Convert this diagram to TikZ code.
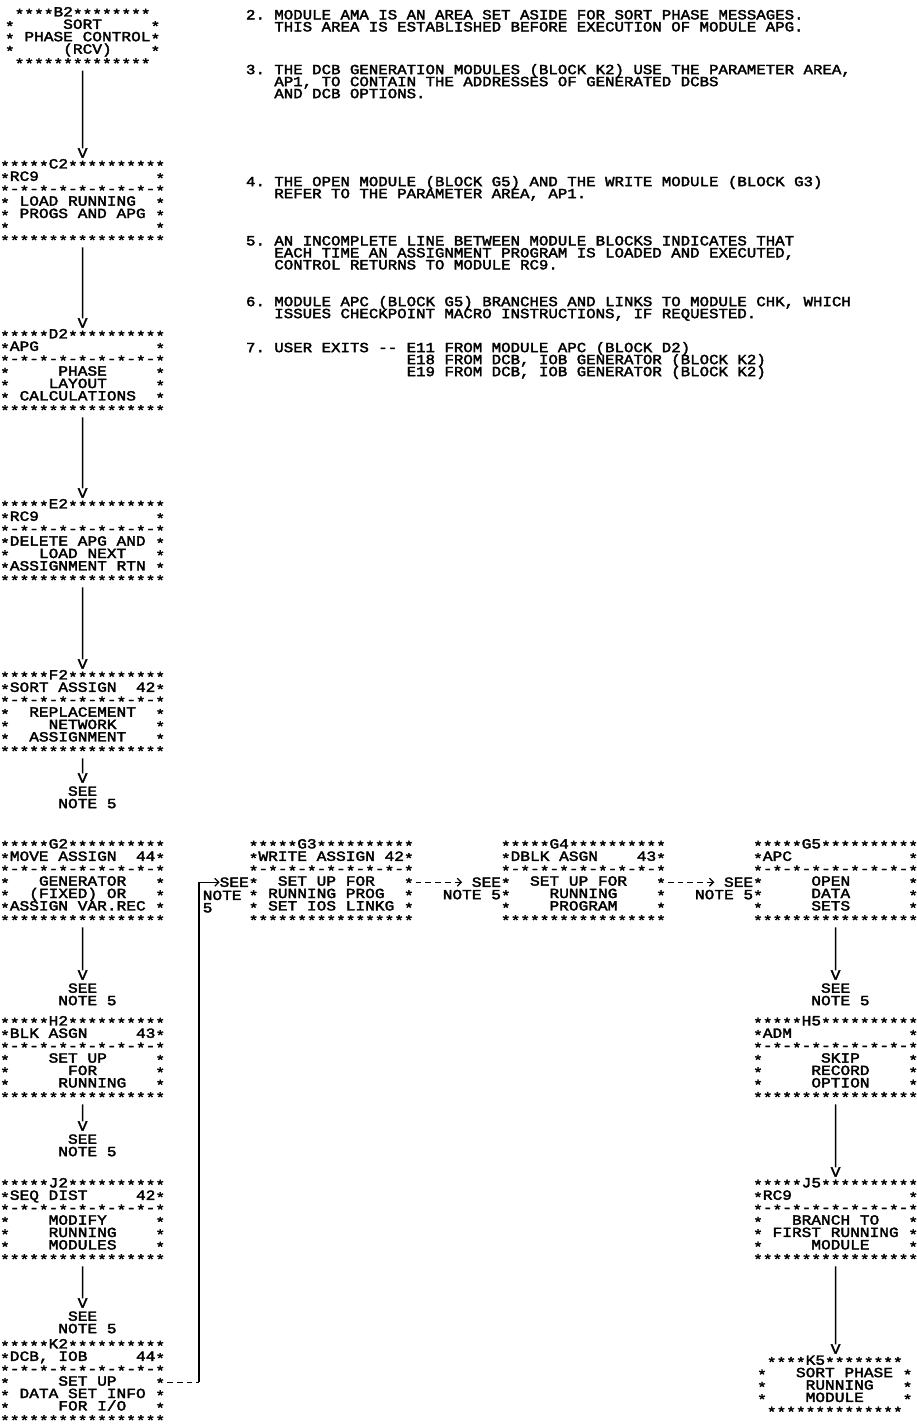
\documentclass[tikz,border=0pt]{standalone}
\usepackage{fontspec}
\setmonofont{Liberation Mono}[FakeStretch=1.155, FakeBold=2.5]
\newfontfamily\notefont{Liberation Mono}[FakeStretch=1.125, FakeBold=2.5]
\usetikzlibrary{arrows.meta}

% printer star and the rows of a module block
\newcommand{\pst}{\raisebox{-2.5pt}{*}}
\newcommand{\boxtop}[1]{\pst\pst\pst\pst\pst#1\pst\pst\pst\pst\pst\pst\pst\pst\pst\pst}
\newcommand{\boxrow}[1]{\pst#1\pst}
\newcommand{\boxmid}{\pst-\pst-\pst-\pst-\pst-\pst-\pst-\pst-\pst}
\newcommand{\boxbot}{\pst\pst\pst\pst\pst\pst\pst\pst\pst\pst\pst\pst\pst\pst\pst\pst\pst}
\newcommand{\termtop}[1]{~\pst\pst\pst\pst#1\pst\pst\pst\pst\pst\pst\pst\pst}
\newcommand{\termbot}{~\pst\pst\pst\pst\pst\pst\pst\pst\pst\pst\pst\pst\pst\pst}
\newcommand{\prtfont}{\ttfamily\fontsize{14}{12.4}\selectfont\frenchspacing\lineskiplimit=-50pt\relax}
\newcommand{\remfont}{\notefont\fontsize{14}{12}\selectfont\frenchspacing\lineskiplimit=-50pt\relax}

\tikzset{
  prt/.style={inner sep=0pt, outer sep=0pt, font=\prtfont},
  modbox/.style={prt, align=left},
  seenote/.style={prt, align=left},
  remark/.style={inner sep=0pt, outer sep=0pt, align=left, font=\remfont},
  flow/.style={line width=1.3pt, shorten <=2pt},
  dashrule/.style={line width=1.3pt, dash pattern=on 5.7pt off 4pt, dash phase=7.7pt},
  barb/.style={-{Straight Barb[length=4pt,width=8pt]}}
}

\begin{document}
\begin{tikzpicture}[x=1pt,y=-1pt]
\fill[white] (0,0) rectangle (917,1427);
\useasboundingbox (0,0) rectangle (917,1427);

% notes
\node (note2) [remark, anchor=north west] at (246,10) {2. MODULE AMA IS AN AREA SET ASIDE FOR SORT PHASE MESSAGES.\\~~~THIS AREA IS ESTABLISHED BEFORE EXECUTION OF MODULE APG.};
\node (note3) [remark, anchor=north west] at (246,64) {3. THE DCB GENERATION MODULES (BLOCK K2) USE THE PARAMETER AREA,\\~~~AP1, TO CONTAIN THE ADDRESSES OF GENERATED DCBS\\~~~AND DCB OPTIONS.};
\node (note4) [remark, anchor=north west] at (246,176) {4. THE OPEN MODULE (BLOCK G5) AND THE WRITE MODULE (BLOCK G3)\\~~~REFER TO THE PARAMETER AREA, AP1.};
\node (note5) [remark, anchor=north west] at (246,236) {5. AN INCOMPLETE LINE BETWEEN MODULE BLOCKS INDICATES THAT\\~~~EACH TIME AN ASSIGNMENT PROGRAM IS LOADED AND EXECUTED,\\~~~CONTROL RETURNS TO MODULE RC9.};
\node (note6) [remark, anchor=north west] at (246,296) {6. MODULE APC (BLOCK G5) BRANCHES AND LINKS TO MODULE CHK, WHICH\\~~~ISSUES CHECKPOINT MACRO INSTRUCTIONS, IF REQUESTED.};
\node (note7) [remark, anchor=north west] at (246,342) {7. USER EXITS -\kern0pt- E11 FROM MODULE APC (BLOCK D2)\\~~~~~~~~~~~~~~~~~E18 FROM DCB, IOB GENERATOR (BLOCK K2)\\~~~~~~~~~~~~~~~~~E19 FROM DCB, IOB GENERATOR (BLOCK K2)};

% left column
\node (b2) [modbox, anchor=west] at (5,37.8) {\termtop{B2}\\\boxrow{~~~~~SORT~~~~~}\\\boxrow{~PHASE~CONTROL}\\\boxrow{~~~~~(RCV)~~~~}\\\termbot};
\node (c2tip) [prt] at (82.6,153) {V};
\node (c2) [modbox, anchor=west] at (0.15,202.2) {\boxtop{C2}\\\boxrow{RC9~~~~~~~~~~~~}\\\boxmid\\\boxrow{~LOAD~RUNNING~~}\\\boxrow{~PROGS~AND~APG~}\\\boxrow{~~~~~~~~~~~~~~~}\\\boxbot};
\node (d2tip) [prt] at (82.6,323) {V};
\node (d2) [modbox, anchor=west] at (0.15,372.2) {\boxtop{D2}\\\boxrow{APG~~~~~~~~~~~~}\\\boxmid\\\boxrow{~~~~~PHASE~~~~~}\\\boxrow{~~~~LAYOUT~~~~~}\\\boxrow{~CALCULATIONS~~}\\\boxbot};
\node (e2tip) [prt] at (82.6,493) {V};
\node (e2) [modbox, anchor=west] at (0.15,542.2) {\boxtop{E2}\\\boxrow{RC9~~~~~~~~~~~~}\\\boxmid\\\boxrow{DELETE~APG~AND~}\\\boxrow{~~~LOAD~NEXT~~~}\\\boxrow{ASSIGNMENT~RTN~}\\\boxbot};
\node (f2tip) [prt] at (82.6,664) {V};
\node (f2) [modbox, anchor=west] at (0.15,713.2) {\boxtop{F2}\\\boxrow{SORT~ASSIGN~~42}\\\boxmid\\\boxrow{~~REPLACEMENT~~}\\\boxrow{~~~~NETWORK~~~~}\\\boxrow{~~ASSIGNMENT~~~}\\\boxbot};
\node (f2out) [prt] at (82.6,778) {V};
\node (seef2) [seenote, anchor=north west] at (58.35,786.4) {~SEE\\NOTE~5};

\node (g2) [modbox, anchor=west] at (0.15,882.2) {\boxtop{G2}\\\boxrow{MOVE~ASSIGN~~44}\\\boxmid\\\boxrow{~~~GENERATOR~~~}\\\boxrow{~~(FIXED)~OR~~~}\\\boxrow{ASSIGN~VAR.REC~}\\\boxbot};
\node (g2out) [prt] at (82.6,975) {V};
\node (seeg2) [seenote, anchor=north west] at (58.35,983.4) {~SEE\\NOTE~5};
\node (h2) [modbox, anchor=west] at (0.15,1059.2) {\boxtop{H2}\\\boxrow{BLK~ASGN~~~~~43}\\\boxmid\\\boxrow{~~~~SET~UP~~~~~}\\\boxrow{~~~~~~FOR~~~~~~}\\\boxrow{~~~~~RUNNING~~~}\\\boxbot};
\node (h2out) [prt] at (82.6,1126) {V};
\node (seeh2) [seenote, anchor=north west] at (58.35,1134.4) {~SEE\\NOTE~5};
\node (j2) [modbox, anchor=west] at (0.15,1221.2) {\boxtop{J2}\\\boxrow{SEQ~DIST~~~~~42}\\\boxmid\\\boxrow{~~~~MODIFY~~~~~}\\\boxrow{~~~~RUNNING~~~~}\\\boxrow{~~~~MODULES~~~~}\\\boxbot};
\node (j2out) [prt] at (82.6,1303) {V};
\node (seej2) [seenote, anchor=north west] at (58.35,1311.4) {~SEE\\NOTE~5};
\node (k2) [modbox, anchor=west] at (0.15,1382.2) {\boxtop{K2}\\\boxrow{DCB,~IOB~~~~~44}\\\boxmid\\\boxrow{~~~~~SET~UP~~~~}\\\boxrow{~DATA~SET~INFO~}\\\boxrow{~~~~~FOR~I/O~~~}\\\boxbot};

% G row
\node (g3) [modbox, anchor=west] at (248.75,882.2) {\boxtop{G3}\\\boxrow{WRITE~ASSIGN~42}\\\boxmid\\\boxrow{~~SET~UP~FOR~~~}\\\boxrow{~RUNNING~PROG~~}\\\boxrow{~SET~IOS~LINKG~}\\\boxbot};
\node (ing3) [prt, anchor=east] at (g3.west) {SEE};
\node (ing3note) [seenote, anchor=north west] at ([xshift=-46pt,yshift=-8.4pt]g3.west) {NOTE\\5};
\node (g4) [modbox, anchor=west] at (500.95,882.2) {\boxtop{G4}\\\boxrow{DBLK~ASGN~~~~43}\\\boxmid\\\boxrow{~~SET~UP~FOR~~~}\\\boxrow{~~~~RUNNING~~~~}\\\boxrow{~~~~PROGRAM~~~~}\\\boxbot};
\node (ing4) [prt, anchor=east] at (g4.west) {SEE};
\node (ing4note) [prt, anchor=east] at ([yshift=-12.4pt]g4.west) {NOTE~5};
\node (g5) [modbox, anchor=west] at (753.15,882.2) {\boxtop{G5}\\\boxrow{APC~~~~~~~~~~~~}\\\boxmid\\\boxrow{~~~~~OPEN~~~~~~}\\\boxrow{~~~~~DATA~~~~~~}\\\boxrow{~~~~~SETS~~~~~~}\\\boxbot};
\node (ing5) [prt, anchor=east] at (g5.west) {SEE};
\node (ing5note) [prt, anchor=east] at ([yshift=-12.4pt]g5.west) {NOTE~5};

% right column
\node (g5out) [prt] at (835.6,975) {V};
\node (seeg5) [seenote, anchor=north west] at (811.35,983.4) {~SEE\\NOTE~5};
\node (h5) [modbox, anchor=west] at (753.15,1059.2) {\boxtop{H5}\\\boxrow{ADM~~~~~~~~~~~~}\\\boxmid\\\boxrow{~~~~~~SKIP~~~~~}\\\boxrow{~~~~~RECORD~~~~}\\\boxrow{~~~~~OPTION~~~~}\\\boxbot};
\node (j5tip) [prt] at (835.6,1172) {V};
\node (j5) [modbox, anchor=west] at (753.15,1221.2) {\boxtop{J5}\\\boxrow{RC9~~~~~~~~~~~~}\\\boxmid\\\boxrow{~~~BRANCH~TO~~~}\\\boxrow{~FIRST~RUNNING~}\\\boxrow{~~~~~MODULE~~~~}\\\boxbot};
\node (k5tip) [prt] at (835.6,1349) {V};
\node (k5) [modbox, anchor=west] at (757.15,1386.2) {\termtop{K5}\\\boxrow{~~~SORT~PHASE~}\\\boxrow{~~~~RUNNING~~~}\\\boxrow{~~~~MODULE~~~~}\\\termbot};

% connectors
\draw[flow] (b2.south) -- (c2tip.north);
\draw[flow] (c2.south) -- (d2tip.north);
\draw[flow] (d2.south) -- (e2tip.north);
\draw[flow] (e2.south) -- (f2tip.north);
\draw[flow] (f2.south) -- (f2out.north);
\draw[flow] (g2.south) -- (g2out.north);
\draw[flow] (h2.south) -- (h2out.north);
\draw[flow] (j2.south) -- (j2out.north);
\draw[flow] (g5.south) -- (g5out.north);
\draw[flow] (h5.south) -- (j5tip.north);
\draw[flow] (j5.south) -- (k5tip.north);

\coordinate (g3turn) at (199,1000);
\draw[dashrule] (k2.east) -- (k2.east -| g3turn);
\draw[line width=1.3pt, barb] (k2.east -| g3turn) |- (ing3.west);
\draw[dashrule, barb, shorten >=9.7pt] (g3.east) -- (ing4.west);
\draw[dashrule, barb, shorten >=9.7pt] (g4.east) -- (ing5.west);
\end{tikzpicture}
\end{document}
